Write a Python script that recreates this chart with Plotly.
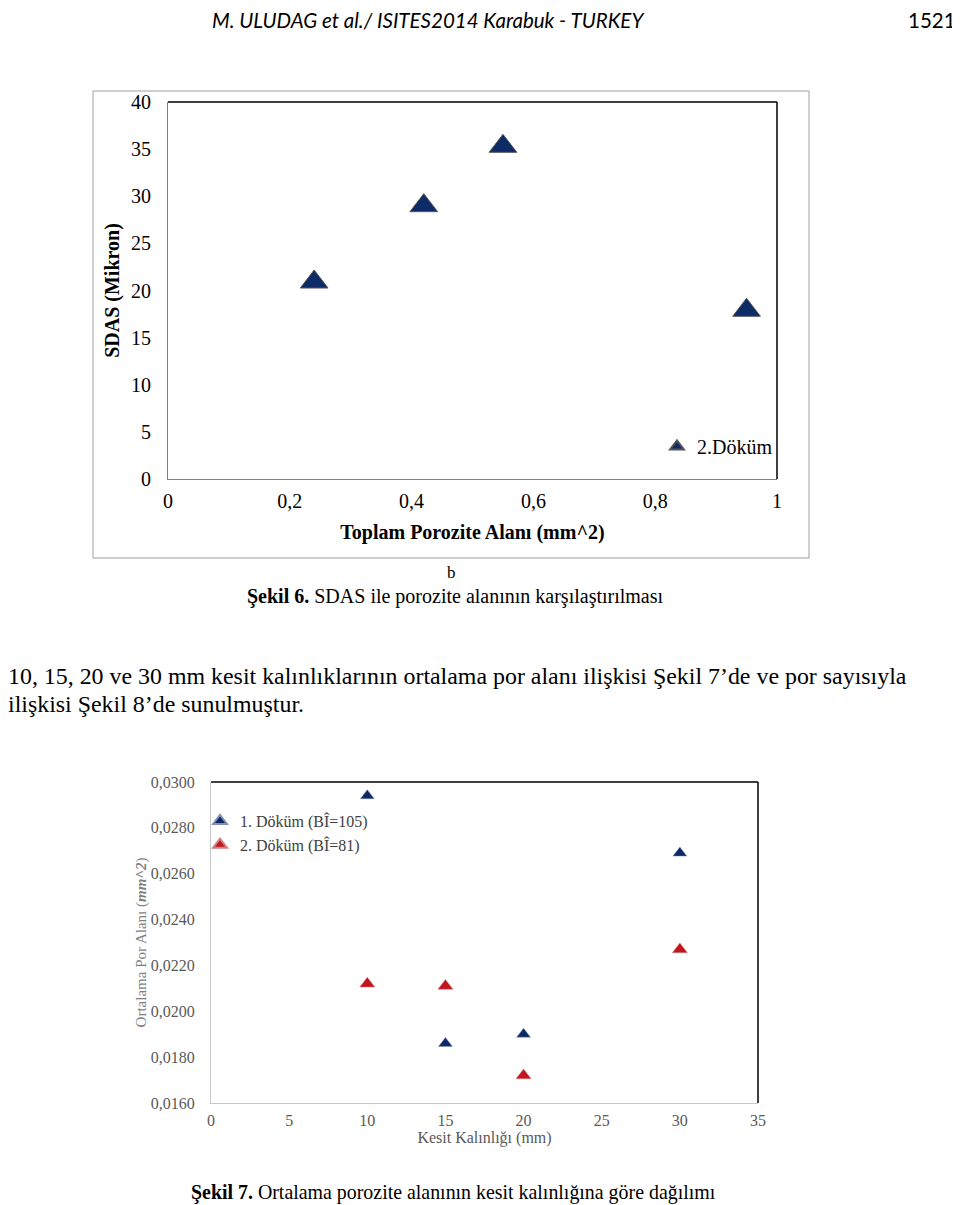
import plotly.graph_objects as go

# The page body has an 8px margin, so the figure is 8px smaller and
# reference pixel positions are shifted by 8.
OFF = 8
W, H = 960 - OFF, 1205 - OFF

# ---- Data: chart 1 (Şekil 6) ----
sdas_x = [0.24, 0.42, 0.55, 0.95]
sdas_y = [20.9, 29.0, 35.3, 17.9]

# ---- Data: chart 2 (Şekil 7) ----
kesit = [10, 15, 20, 30]
dokum1 = [0.0294, 0.0186, 0.0190, 0.0269]
dokum2 = [0.0212, 0.0211, 0.0172, 0.0227]

x1_ticks = [0, 0.2, 0.4, 0.6, 0.8, 1]
y1_ticks = [0, 5, 10, 15, 20, 25, 30, 35, 40]
x2_ticks = [0, 5, 10, 15, 20, 25, 30, 35]
y2_ticks = [0.016, 0.018, 0.020, 0.022, 0.024, 0.026, 0.028, 0.030]


def px(v):
    return (v - OFF) / W


def py(v):
    return 1 - (v - OFF) / H


SERIF = "Liberation Serif, Times New Roman, serif"

fig = go.Figure()

fig.add_trace(go.Scatter(
    x=sdas_x, y=sdas_y, mode="markers", name="2.Döküm",
    xaxis="x", yaxis="y", legend="legend",
    marker=dict(symbol="triangle-up", size=24, color="#0d2b66",
                line=dict(color="#555555", width=1)),
))
fig.add_trace(go.Scatter(
    x=kesit, y=dokum1, mode="markers", name="1. Döküm (BÎ=105)",
    xaxis="x2", yaxis="y2", legend="legend2",
    marker=dict(symbol="triangle-up", size=12, color="#0d2866",
                line=dict(color="#8090b0", width=0.5)),
))
fig.add_trace(go.Scatter(
    x=kesit, y=dokum2, mode="markers", name="2. Döküm (BÎ=81)",
    xaxis="x2", yaxis="y2", legend="legend2",
    marker=dict(symbol="triangle-up", size=13, color="#c0161e",
                line=dict(color="#d08080", width=0.5)),
))

fig.update_layout(
    template="none",
    width=W, height=H, autosize=False,
    margin=dict(l=0, r=0, t=0, b=0, pad=0, autoexpand=False),
    paper_bgcolor="white", plot_bgcolor="white",
    separators=",.",
    font=dict(family=SERIF, color="#000000"),
    xaxis=dict(
        domain=[px(168), px(777)], anchor="y", range=[0, 1], automargin=False,
        tickvals=x1_ticks, showgrid=False, zeroline=False,
        showline=True, linecolor="#7f7f7f", linewidth=1,
        ticks="", ticklabelstandoff=4,
        tickfont=dict(family=SERIF, size=20, color="#000000"),
        title=dict(text="<b>Toplam Porozite Alanı (mm^2)</b>",
                   font=dict(family=SERIF, size=20, color="#000000"), standoff=13),
    ),
    yaxis=dict(
        domain=[py(479), py(102)], anchor="x", range=[0, 40], automargin=False,
        tickvals=y1_ticks, showgrid=False, zeroline=False,
        showline=True, linecolor="#7f7f7f", linewidth=1,
        ticks="", ticklabelstandoff=12,
        tickfont=dict(family=SERIF, size=20, color="#000000"),
        title=dict(text="<b>SDAS (Mikron)</b>",
                   font=dict(family=SERIF, size=20, color="#000000"), standoff=6),
    ),
    xaxis2=dict(
        domain=[px(211), px(758)], anchor="y2", range=[0, 35], automargin=False,
        tickvals=x2_ticks, showgrid=False, zeroline=False,
        showline=True, linecolor="#c8c8c8", linewidth=1,
        ticks="", ticklabelstandoff=3,
        tickfont=dict(family=SERIF, size=16, color="#595959"),
        title=dict(text="Kesit Kalınlığı (mm)",
                   font=dict(family=SERIF, size=16, color="#595959"), standoff=2),
    ),
    yaxis2=dict(
        domain=[py(1103), py(782)], anchor="x2", range=[0.016, 0.030], automargin=False,
        tickvals=y2_ticks, tickformat=".4f", showgrid=False, zeroline=False,
        showline=True, linecolor="#c8c8c8", linewidth=1,
        ticks="", ticklabelstandoff=12,
        tickfont=dict(family=SERIF, size=16, color="#595959"),
        title=dict(text="Ortalama Por Alanı (<b><i>mm^2</i></b>)",
                   font=dict(family=SERIF, size=15, color="#7f7f7f"), standoff=0),
    ),
    legend=dict(
        x=px(657), y=py(427), xanchor="left", yanchor="top",
        bgcolor="rgba(0,0,0,0)", borderwidth=0, itemsizing="constant",
        font=dict(family=SERIF, size=20, color="#000000"),
    ),
    legend2=dict(
        x=px(200), y=py(804), xanchor="left", yanchor="top",
        bgcolor="rgba(0,0,0,0)", borderwidth=0, itemsizing="constant",
        tracegroupgap=0,
        font=dict(family=SERIF, size=16, color="#404040"),
    ),
    showlegend=True,
)

shapes = [
    # outer frame of chart 1
    dict(type="rect", xref="paper", yref="paper",
         x0=px(93), x1=px(809), y0=py(558), y1=py(91),
         line=dict(color="#a0a0a0", width=1)),
    # top and right borders of plot areas
    dict(type="line", xref="x domain", yref="y domain", x0=0, x1=1, y0=1, y1=1,
         line=dict(color="#000000", width=1.5)),
    dict(type="line", xref="x domain", yref="y domain", x0=1, x1=1, y0=0, y1=1,
         line=dict(color="#000000", width=1.5)),
    dict(type="line", xref="x2 domain", yref="y2 domain", x0=0, x1=1, y0=1, y1=1,
         line=dict(color="#000000", width=1.5)),
    dict(type="line", xref="x2 domain", yref="y2 domain", x0=1, x1=1, y0=0, y1=1,
         line=dict(color="#000000", width=1.5)),
]
fig.update_layout(shapes=shapes)

annotations = [
    dict(text="<i>M. ULUDAG et al./ ISITES2014 Karabuk - TURKEY</i>",
         x=px(428), y=py(20), xanchor="center", yanchor="middle",
         font=dict(family="Lato, Carlito, sans-serif", size=20.5, color="#000000")),
    dict(text="1521", x=px(958), y=py(20), xanchor="right", yanchor="middle",
         font=dict(family="Lato, Carlito, sans-serif", size=20.5, color="#000000")),
    dict(text="b", x=px(451), y=py(572), xanchor="center", yanchor="middle",
         font=dict(family=SERIF, size=17, color="#000000")),
    dict(text="<b>Şekil 6.</b> SDAS ile porozite alanının karşılaştırılması",
         x=px(245), y=py(596), xanchor="left", yanchor="middle",
         font=dict(family=SERIF, size=20, color="#000000")),
    dict(text="10, 15, 20 ve 30 mm kesit kalınlıklarının ortalama por alanı ilişkisi Şekil 7’de ve por sayısıyla",
         x=-2 / W, y=py(676), xanchor="left", yanchor="middle",
         font=dict(family=SERIF, size=23.9, color="#000000")),
    dict(text="ilişkisi Şekil 8’de sunulmuştur.",
         x=-2 / W, y=py(704), xanchor="left", yanchor="middle",
         font=dict(family=SERIF, size=23.9, color="#000000")),
    dict(text="<b>Şekil 7.</b> Ortalama porozite alanının kesit kalınlığına göre dağılımı",
         x=px(189), y=py(1192), xanchor="left", yanchor="middle",
         font=dict(family=SERIF, size=19.9, color="#000000")),
]
for a in annotations:
    a.update(xref="paper", yref="paper", showarrow=False)
fig.update_layout(annotations=annotations)

fig.write_html("out.html")
